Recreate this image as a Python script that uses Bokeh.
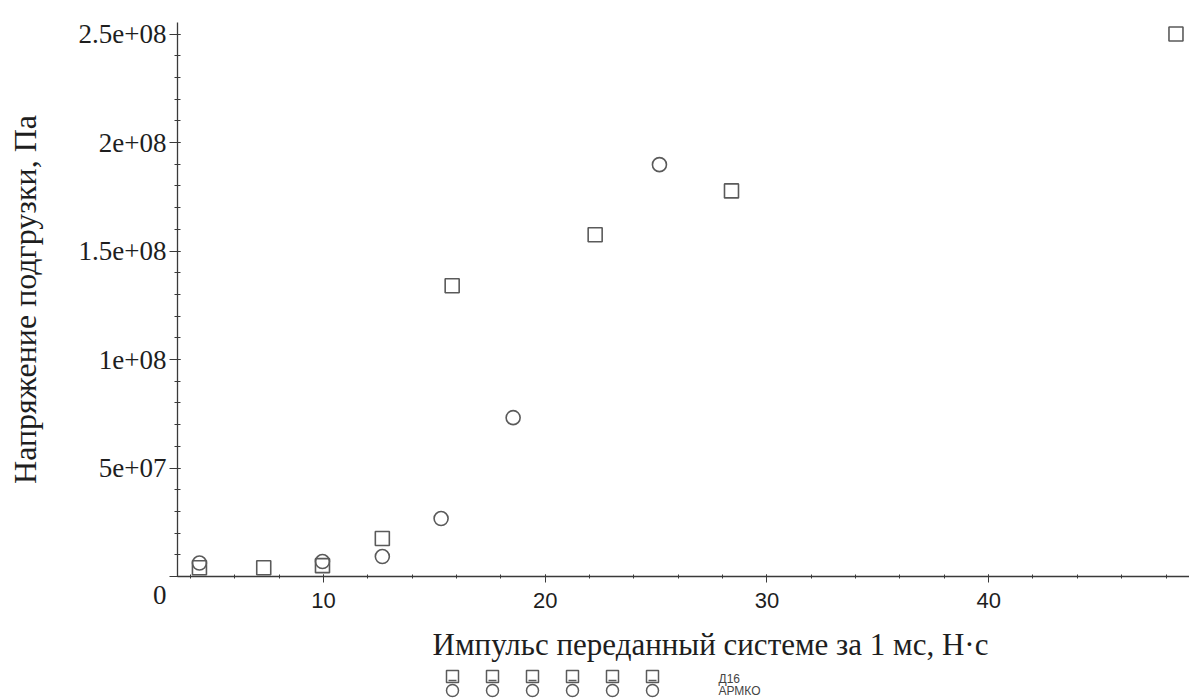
from bokeh.plotting import figure
from bokeh.layouts import column
from bokeh.models import Range1d, FixedTicker
from bokeh.core.properties import value
from bokeh.embed import file_html
from bokeh.resources import INLINE

# ---- data ----
series_names = ["Д16", "АРМКО"]
d16_impulse = [4.4, 7.3, 9.95, 12.65, 15.8, 22.25, 28.4, 48.45]
d16_stress = [4.0e6, 4.0e6, 5.0e6, 1.75e7, 1.34e8, 1.575e8, 1.777e8, 2.5e8]
armco_impulse = [4.4, 9.95, 12.65, 15.3, 18.55, 25.15]
armco_stress = [6.2e6, 6.9e6, 9.2e6, 2.67e7, 7.32e7, 1.898e8]

x_ticks = [10, 20, 30, 40]
y_ticks = [0, 5e7, 1e8, 1.5e8, 2e8, 2.5e8]
y_tick_labels = ["0", "5e+07", "1e+08", "1.5e+08", "2e+08", "2.5e+08"]
x_title = "Импульс переданный системе за 1 мс, Н·с"
y_title = "Напряжение подгрузки, Па"

MARK = "#5a5a5a"
AX = "#3a3a3a"
TXT = "#1e1e1e"

W = 1189
H1 = 618
H2 = 82
LEFT = 177

p = figure(width=W, height=H1, output_backend="svg", toolbar_location=None,
           x_range=Range1d(3.41, 49.06), y_range=Range1d(0, 2.553e8),
           min_border_left=LEFT, min_border_right=0, min_border_top=22,
           min_border_bottom=42)
p.outline_line_color = None
p.grid.visible = False
p.background_fill_color = "white"

p.scatter(d16_impulse, d16_stress, marker="square", size=14,
          fill_color=None, line_color=MARK, line_width=1.6)
p.scatter(armco_impulse, armco_stress, marker="circle", size=14,
          fill_color=None, line_color=MARK, line_width=1.6)

xa = p.xaxis[0]
xa.ticker = FixedTicker(ticks=x_ticks, minor_ticks=list(range(4, 50, 2)))
xa.axis_line_color = AX
xa.axis_line_width = 1.3
xa.major_tick_line_color = AX
xa.minor_tick_line_color = AX
xa.major_tick_in = 2
xa.major_tick_out = 6
xa.minor_tick_in = 2
xa.minor_tick_out = 2
xa.major_label_text_font = "Liberation Sans"
xa.major_label_text_font_size = "22px"
xa.major_label_text_color = TXT
xa.major_label_standoff = 10

ya = p.yaxis[0]
ya.ticker = FixedTicker(ticks=y_ticks, minor_ticks=[i * 1e7 for i in range(0, 26)])
# the "0" at the origin is printed a little below the axis in the original
ya.major_label_overrides = {t: (lab if t != 0 else "\n" + lab) for t, lab in zip(y_ticks, y_tick_labels)}
ya.axis_line_color = AX
ya.axis_line_width = 1.3
ya.major_tick_line_color = AX
ya.minor_tick_line_color = AX
ya.major_tick_in = 3
ya.major_tick_out = 8
ya.minor_tick_in = 3
ya.minor_tick_out = 3
ya.major_label_text_font = "Liberation Serif"
ya.major_label_text_font_size = "27px"
ya.major_label_text_color = TXT
ya.major_label_standoff = 3
ya.axis_label = y_title
ya.axis_label_text_font = "Liberation Serif"
ya.axis_label_text_font_size = "32px"
ya.axis_label_text_font_style = "normal"
ya.axis_label_text_color = TXT
ya.axis_label_standoff = 33

# ---- lower strip: x title and legend (frame aligned with the plot frame) ----
q = figure(width=W, height=H2, output_backend="svg", toolbar_location=None,
           x_range=Range1d(LEFT, W), y_range=Range1d(H2, 0),
           x_axis_type=None, y_axis_type=None,
           min_border_left=LEFT, min_border_right=0, min_border_top=0, min_border_bottom=0)
q.outline_line_color = None
q.grid.visible = False

q.text(x=[710], y=[26], text=[x_title], text_font=value("Liberation Serif"),
       text_font_size=value("31px"), text_color=TXT, text_align="center",
       text_baseline="alphabetic")

leg_x = [452 + 40 * i for i in range(6)]
q.scatter(leg_x, [58] * 6, marker="square", size=12, fill_color=None,
          line_color=MARK, line_width=1.5)
q.scatter(leg_x, [72] * 6, marker="circle", size=12, fill_color=None,
          line_color=MARK, line_width=1.5)
q.segment(x0=[x - 4 for x in leg_x], y0=[62] * 6, x1=[x + 4 for x in leg_x], y1=[62] * 6,
          line_color=MARK, line_width=1.5)
q.text(x=[718, 718], y=[60, 72], text=series_names, text_font=value("Liberation Sans"),
       text_font_size=value("12px"), text_color="#444444", text_align="left",
       text_baseline="middle")

layout = column(p, q, spacing=0)
open("out.html", "w").write(file_html(layout, INLINE))
